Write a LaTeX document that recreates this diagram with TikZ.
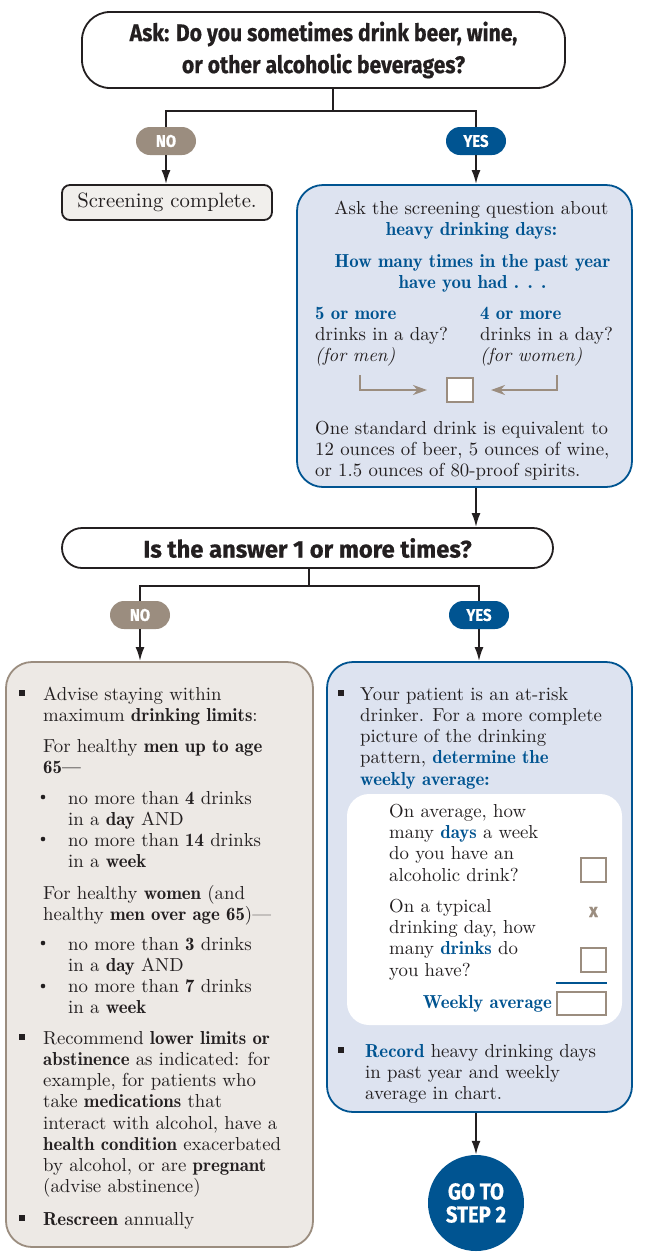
\documentclass[tikz,border=0pt]{standalone}
\usepackage{fontspec}
\setmainfont{lmroman10-regular.otf}[BoldFont=lmromandemi10-regular.otf, ItalicFont=lmroman10-italic.otf]
\newfontfamily\headfont[FakeStretch=0.88, BoldFeatures={FakeBold=0.6}]{Fira Sans}
\newfontfamily\wideheadfont[FakeStretch=0.99, BoldFeatures={FakeBold=0.6}]{Fira Sans}
\usetikzlibrary{arrows.meta}
\tikzset{>={Latex[length=14pt,width=9pt]}}
\definecolor{Navy}{RGB}{0,84,145}
\definecolor{Mist}{RGB}{221,227,240}
\definecolor{Taupe}{RGB}{155,141,127}
\definecolor{Sand}{RGB}{237,233,229}
\definecolor{Chalk}{RGB}{241,239,236}
\definecolor{Ink}{RGB}{35,31,32}
\newcommand\txtsize{\fontsize{18.8}{21.2}\selectfont}
\newcommand\hl[1]{\textcolor{Navy}{\textbf{#1}}}
\tikzset{
  askbox/.style={draw=Ink, line width=1.8pt, fill=white, rounded corners=28pt, align=center, text=Ink,
    font=\headfont\bfseries\fontsize{24}{32}\selectfont},
  pill/.style={rounded corners=14pt, minimum width=60pt, minimum height=28pt, inner sep=0pt, text=white,
    font=\headfont\bfseries\fontsize{17}{17}\selectfont},
  plainbox/.style={draw=Ink, line width=1.8pt, fill=Chalk, rounded corners=8pt, text=Ink,
    font=\fontsize{20.7}{24}\selectfont},
  bluebox/.style={draw=Navy, line width=1.8pt, fill=Mist, rounded corners=26pt},
  tanbox/.style={draw=Taupe, line width=1.8pt, fill=Sand, rounded corners=26pt},
  whitebox/.style={fill=white, rounded corners=22pt},
  chk/.style={draw=Taupe, line width=2pt, fill=white, minimum width=25pt, minimum height=24pt, inner sep=0pt},
  txt/.style={inner sep=0pt, align=left, anchor=north west, text=Ink, font=\txtsize},
  link/.style={draw=Ink, line width=2pt},
  pointer/.style={draw=Taupe, line width=2.2pt, -{Stealth[length=14pt,width=10pt]}}
}

\begin{document}
\begin{tikzpicture}[x=1pt,y=-1pt]
\useasboundingbox (0,0) rectangle (653,1254);

% first question
\node[askbox, minimum width=483pt, minimum height=76pt] (ask) at (323.5,50) {Ask: Do you sometimes drink beer, wine,\\or other alcoholic beverages?};
\node[pill, fill=Taupe] (no1) at (166,141) {NO};
\node[pill, fill=Navy] (yes1) at (476,141) {YES};
\node[plainbox, minimum width=210pt, minimum height=35pt] (done) at (167,202.5) {Screening complete.};
\node[bluebox, minimum width=335pt, minimum height=302pt] (heavy) at (464.5,336) {};
\draw[link] ([xshift=9pt]ask.south) -- ++(0,22) coordinate (fork1);
\draw[link] (no1.north) |- (fork1) -| (yes1.north);
\draw[link,->] (no1.south) -- (no1.south |- done.north);
\draw[link,->] (yes1.south) -- (yes1.south |- heavy.north);

% heavy drinking days
\node[txt, align=center, anchor=north] (askq) at (471.5,201) {Ask the screening question about\\\hl{heavy drinking days:}};
\node[txt, align=center, anchor=north] (howmany) at (472.5,254) {\hl{How many times in the past year}\\\hl{have you had . . .}};
\node[txt] (men) at (315,307) {\hl{5 or more}\\drinks in a day?\\\textit{(for men)}};
\node[txt] (women) at (480,307) {\hl{4 or more}\\drinks in a day?\\\textit{(for women)}};
\node[chk, minimum width=26pt] (daychk) at (460,390) {};
\coordinate (menend) at (360,375);
\coordinate (womenend) at (557,375);
\draw[pointer, shorten >=19pt] (menend) |- (daychk.west);
\draw[pointer, shorten >=17pt] (womenend) |- (daychk.east);
\node[txt] (std) at (315,421) {One standard drink is equivalent to\\12 ounces of beer, 5 ounces of wine,\\or 1.5 ounces of 80-proof spirits.};

% second question
\node[askbox, minimum width=491pt, minimum height=40pt, rounded corners=20pt, font=\wideheadfont\bfseries\fontsize{24}{32}\selectfont] (answer) at (307.5,548) {Is the answer 1 or more times?};
\draw[link,->] (yes1 |- heavy.south) -- (yes1 |- answer.north);
\node[pill, fill=Taupe] (no2) at (140,615) {NO};
\node[pill, fill=Navy] (yes2) at (479,615) {YES};
\draw[link] ([xshift=1.5pt]answer.south) -- ++(0,17) coordinate (fork2);
\draw[link] (no2.north) |- (fork2) -| (yes2.north);
\node[tanbox, minimum width=307pt, minimum height=585pt] (limits) at (159.5,954.5) {};
\node[bluebox, minimum width=305pt, minimum height=450pt] (atrisk) at (479.5,887) {};
\draw[link,->] (no2.south) -- (no2.south |- limits.north);
\draw[link,->] (yes2.south) -- (yes2.south |- atrisk.north);

% drinking limits
\foreach \y in {693,1037,1218} \fill[Ink] (19,\y-3) rectangle ++(6,6);
\foreach \y in {797,839,943,986} \fill[Ink] (43,\y) circle (2.3pt);
\node[txt] (advise) at (43,687) {Advise staying within\\maximum \textbf{drinking limits}:};
\node[txt] (menlim) at (43,739) {For healthy \textbf{men up to age}\\\textbf{65—}};
\node[txt] (menlist) at (68,791) {no more than \textbf{4} drinks\\in a \textbf{day} AND\\no more than \textbf{14} drinks\\in a \textbf{week}};
\node[txt] (womenlim) at (43,885) {For healthy \textbf{women} (and\\healthy \textbf{men over age 65})—};
\node[txt] (womenlist) at (68,937) {no more than \textbf{3} drinks\\in a \textbf{day} AND\\no more than \textbf{7} drinks\\in a \textbf{week}};
\node[txt] (lower) at (43,1031) {Recommend \textbf{lower limits or}\\\textbf{abstinence} as indicated: for\\example, for patients who\\take \textbf{medications} that\\interact with alcohol, have a\\\textbf{health condition} exacerbated\\by alcohol, or are \textbf{pregnant}\\(advise abstinence)};
\node[txt] (rescreen) at (43,1212) {\textbf{Rescreen} annually};

% at-risk drinker
\foreach \y in {693,1050} \fill[Ink] (338,\y-3) rectangle ++(6,6);
\foreach \y in {810,905} \fill[Ink] (363,\y) circle (2.3pt);
\node[txt] (patient) at (360,687) {Your patient is an at-risk\\drinker. For a more complete\\picture of the drinking\\pattern, \hl{determine the}\\\hl{weekly average:}};
\node[whitebox, minimum width=275pt, minimum height=231pt] (inner) at (484.5,909.5) {};
\node[txt] (days) at (389,804) {On average, how\\many \hl{days} a week\\do you have an\\alcoholic drink?};
\node[txt] (drinks) at (389,899) {On a typical\\drinking day, how\\many \hl{drinks} do\\you have?};
\node[chk] (dayschk) at (593.5,869.5) {};
\node[inner sep=0pt, text=Taupe, font=\headfont\bfseries\fontsize{19}{19}\selectfont] (times) at (593.5,912) {x};
\node[chk] (drinkschk) at (593.5,959.5) {};
\node[chk, minimum width=49pt, minimum height=23pt] (weekchk) at (581.5,1003.5) {};
\draw[Navy, line width=2.2pt] ([yshift=8pt]weekchk.north west) -- ([yshift=8pt]weekchk.north east);
\node[txt, anchor=east] (weeklabel) at ([xshift=-4pt]weekchk.west) {\hl{Weekly average}};
\node[txt] (record) at (365,1044) {\hl{Record} heavy drinking days\\in past year and weekly\\average in chart.};

% next step
\node[circle, fill=Navy, minimum size=96pt, inner sep=0pt, align=center, text=white,
  font=\headfont\bfseries\fontsize{23}{23}\selectfont] (step2) at (476,1203) {GO TO\\STEP 2};
\draw[link,->] (step2.north |- atrisk.south) -- (step2.north);
\end{tikzpicture}
\end{document}
